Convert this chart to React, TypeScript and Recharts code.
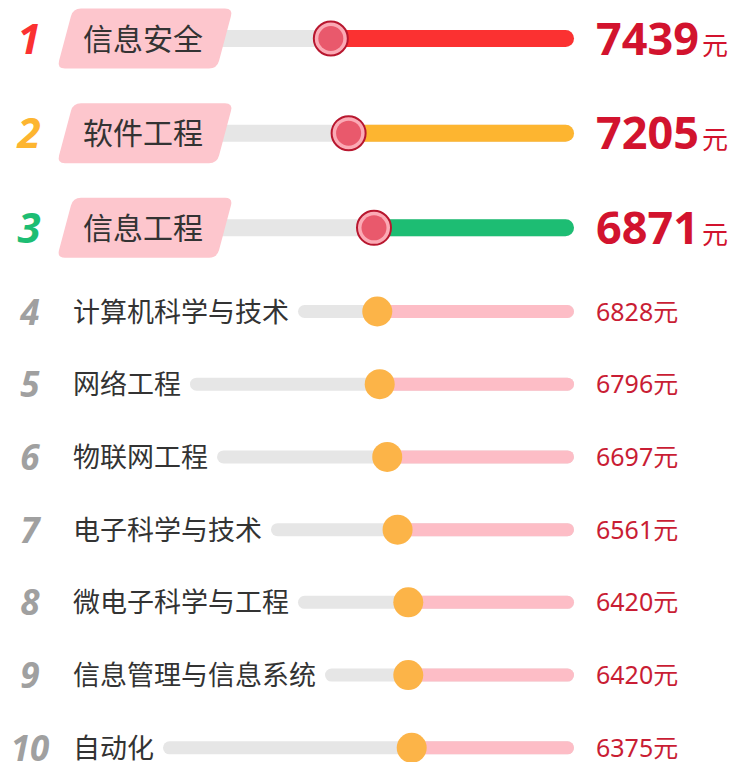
import React from 'react';
import { BarChart, Bar, XAxis, YAxis, LabelList } from 'recharts';

// 排名前三
const topMajors = ['信息安全', '软件工程', '信息工程'];
const topSalaries = [7439, 7205, 6871];
const topColors = ['#fb3131', '#fdb530', '#1dbd73'];

// 第4-10名
const otherMajors = [
  '计算机科学与技术',
  '网络工程',
  '物联网工程',
  '电子科学与技术',
  '微电子科学与工程',
  '信息管理与信息系统',
  '自动化',
];
const otherSalaries = [6828, 6796, 6697, 6561, 6420, 6420, 6375];

const unit = '元';
const salaryDomain: [number, number] = [4240, 9160];

const CJK = '"Noto Sans CJK SC", "Noto Sans", sans-serif';
const LATIN = '"Noto Sans", "Open Sans", sans-serif';
const TRACK = '#e6e6e6';

const topData = topMajors.map((name, i) => ({ name, salary: topSalaries[i], rank: i + 1 }));
const otherData = otherMajors.map((name, i) => ({ name, salary: otherSalaries[i], rank: i + 4 }));

// 圆角平行四边形
const roundedPoly = (pts: number[][], r: number) => {
  let d = '';
  pts.forEach((p, i) => {
    const prev = pts[(i + pts.length - 1) % pts.length];
    const next = pts[(i + 1) % pts.length];
    const l1 = Math.hypot(prev[0] - p[0], prev[1] - p[1]);
    const l2 = Math.hypot(next[0] - p[0], next[1] - p[1]);
    const a = [p[0] + ((prev[0] - p[0]) * r) / l1, p[1] + ((prev[1] - p[1]) * r) / l1];
    const b = [p[0] + ((next[0] - p[0]) * r) / l2, p[1] + ((next[1] - p[1]) * r) / l2];
    d += `${i === 0 ? 'M' : 'L'}${a[0]},${a[1]} Q${p[0]},${p[1]} ${b[0]},${b[1]} `;
  });
  return d + 'Z';
};

const centerY = (props: any) => {
  const vb = props.viewBox || props;
  return vb.y + vb.height / 2;
};

const barEdges = (props: any) => {
  const { x, width } = props;
  return [Math.min(x, x + width), Math.max(x, x + width)];
};

const TopBarShape = (props: any) => {
  const { y, height, index } = props;
  const [left, right] = barEdges(props);
  const cy = y + height / 2;
  const h = 17;
  return (
    <g>
      <rect x={200} y={cy - h / 2} width={right - 200} height={h} rx={h / 2} fill={TRACK} />
      <rect x={left} y={cy - h / 2} width={right - left} height={h} rx={h / 2} fill={topColors[index]} />
      <circle cx={left} cy={cy} r={17} fill="#fbaab5" stroke="#b8172f" strokeWidth={2} />
      <circle cx={left} cy={cy} r={12.5} fill="#e9596c" />
    </g>
  );
};

const OtherBarShape = (props: any) => {
  const { y, height, payload } = props;
  const [left, right] = barEdges(props);
  const cy = y + height / 2;
  const h = 13;
  const trackStart = 73 + payload.name.length * 27 + 9;
  return (
    <g>
      <rect x={trackStart} y={cy - h / 2} width={right - trackStart} height={h} rx={h / 2} fill={TRACK} />
      <rect x={left} y={cy - h / 2} width={right - left} height={h} rx={h / 2} fill="#fdbdc6" />
      <circle cx={left} cy={cy} r={15} fill="#fcb448" />
    </g>
  );
};

const TopNameLabel = (props: any) => {
  const { index, value } = props;
  const cy = centerY(props);
  const t = cy - 30;
  const b = cy + 30;
  const box = roundedPoly(
    [
      [73, t],
      [233, t],
      [217, b],
      [57, b],
    ],
    8
  );
  return (
    <g>
      <text x={29} y={cy + 15} textAnchor="middle" fontFamily={LATIN} fontSize={42} fontWeight={700} fontStyle="italic" fill={topColors[index]}>
        {index + 1}
      </text>
      <path d={box} fill="#fdc6cd" />
      <text x={83} y={cy + 11} fontFamily={CJK} fontSize={30} fill="#333">
        {value}
      </text>
    </g>
  );
};

const OtherNameLabel = (props: any) => {
  const { index, value } = props;
  const cy = centerY(props);
  return (
    <g>
      <text x={30} y={cy + 13} textAnchor="middle" fontFamily={LATIN} fontSize={35} fontWeight={700} fontStyle="italic" fill="#a0a0a0">
        {index + 4}
      </text>
      <text x={73} y={cy + 10} fontFamily={CJK} fontSize={27} fill="#333">
        {value}
      </text>
    </g>
  );
};

const TopValueLabel = (props: any) => {
  const cy = centerY(props);
  return (
    <text x={596} y={cy + 16} fontFamily={LATIN} fill="#d2132e">
      <tspan fontSize={45} fontWeight={700}>{props.value}</tspan>
      <tspan fontSize={26} fontFamily={CJK} dx={3}>{unit}</tspan>
    </text>
  );
};

const OtherValueLabel = (props: any) => {
  const cy = centerY(props);
  return (
    <text x={596} y={cy + 9} fontFamily={LATIN} fontSize={25} fill="#c91d34">
      {props.value}
      <tspan fontFamily={CJK}>{unit}</tspan>
    </text>
  );
};

const App: React.FC = () => {
  return (
    <div style={{ position: 'absolute', left: 0, top: 0, width: 732, height: 762, overflow: 'hidden', background: '#fff' }}>
      <div style={{ position: 'absolute', left: 0, top: -9 }}>
        <BarChart width={732} height={284} data={topData} layout="vertical" margin={{ top: 0, right: 158, bottom: 0, left: 200 }}>
          <XAxis type="number" dataKey="salary" domain={salaryDomain} reversed hide />
          <YAxis type="category" dataKey="name" hide />
          <Bar dataKey="salary" barSize={17} shape={TopBarShape} isAnimationActive={false}>
            <LabelList dataKey="name" content={TopNameLabel} />
            <LabelList dataKey="salary" content={TopValueLabel} />
          </Bar>
        </BarChart>
      </div>
      <div style={{ position: 'absolute', left: 0, top: 275 }}>
        <BarChart width={732} height={509} data={otherData} layout="vertical" margin={{ top: 0, right: 158, bottom: 0, left: 200 }}>
          <XAxis type="number" dataKey="salary" domain={salaryDomain} reversed hide />
          <YAxis type="category" dataKey="name" hide />
          <Bar dataKey="salary" barSize={13} shape={OtherBarShape} isAnimationActive={false}>
            <LabelList dataKey="name" content={OtherNameLabel} />
            <LabelList dataKey="salary" content={OtherValueLabel} />
          </Bar>
        </BarChart>
      </div>
    </div>
  );
};

export default App;
